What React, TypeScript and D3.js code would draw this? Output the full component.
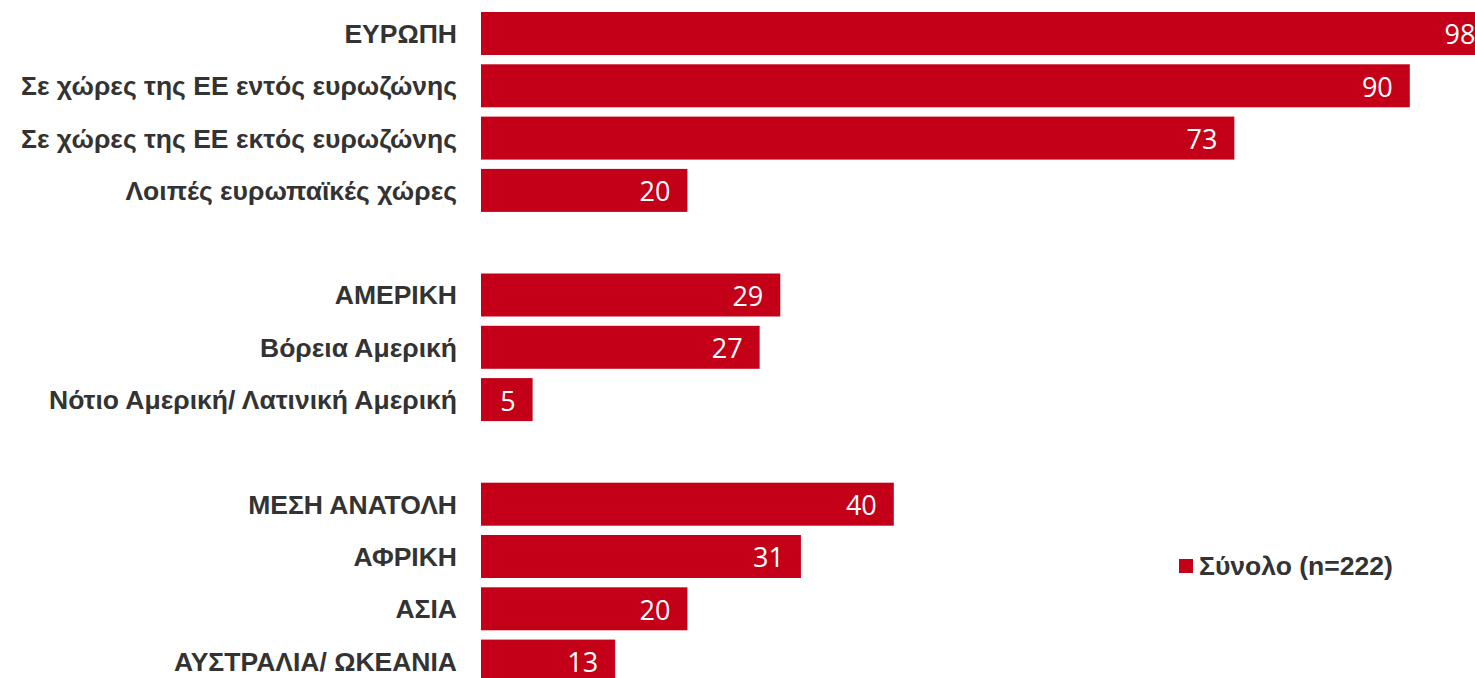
import React from "react";
import * as d3 from "d3";

const categories = [
  "ΕΥΡΩΠΗ",
  "Σε χώρες της ΕΕ εντός ευρωζώνης",
  "Σε χώρες της ΕΕ εκτός ευρωζώνης",
  "Λοιπές ευρωπαϊκές χώρες",
  "",
  "ΑΜΕΡΙΚΗ",
  "Βόρεια Αμερική",
  "Νότιο Αμερική/ Λατινική Αμερική",
  "",
  "ΜΕΣΗ ΑΝΑΤΟΛΗ",
  "ΑΦΡΙΚΗ",
  "ΑΣΙΑ",
  "ΑΥΣΤΡΑΛΙΑ/ ΩΚΕΑΝΙΑ",
];
const values: (number | null)[] = [98, 90, 73, 20, null, 29, 27, 5, null, 40, 31, 20, 13];
const seriesName = "Σύνολο (n=222)";

const W = 1475;
const H = 678;
const RED = "#C40018";
const TEXT = "#333333";

export default function App() {
  const slots = categories.map((_, i) => String(i));
  const step = 52.3;
  const y = d3
    .scaleBand<string>()
    .domain(slots)
    .range([12 - 0.089 * step, 12 - 0.089 * step + 13 * step])
    .paddingInner(0.178)
    .paddingOuter(0.089);
  const x = d3.scaleLinear().domain([0, 100]).range([481, 1513]);

  return (
    <svg
      width={W}
      height={H}
      style={{ position: "absolute", left: 0, top: 0, background: "#fff" }}
    >
      {categories.map((c, i) => {
        const v = values[i];
        if (v == null) return null;
        const y0 = y(String(i))!;
        const bh = y.bandwidth();
        const cy = y0 + bh / 2;
        return (
          <g key={i}>
            <rect x={x(0)} y={y0} width={x(v) - x(0)} height={bh} fill={RED} />
            <text
              x={457}
              y={cy + 9.5}
              textAnchor="end"
              fontFamily="Liberation Sans, Arial, sans-serif"
              fontWeight="bold"
              fontSize={26.5}
              fill={TEXT}
            >
              {c}
            </text>
            <text
              x={x(v) - 17}
              y={cy + 11}
              textAnchor="end"
              fontFamily="Open Sans, sans-serif"
              fontSize={27}
              fill="#fff"
            >
              {v}
            </text>
          </g>
        );
      })}
      <rect x={1179} y={559} width={14} height={14} fill={RED} />
      <text
        x={1199}
        y={575}
        fontFamily="Liberation Sans, Arial, sans-serif"
        fontWeight="bold"
        fontSize={26.5}
        fill={TEXT}
      >
        {seriesName}
      </text>
    </svg>
  );
}
